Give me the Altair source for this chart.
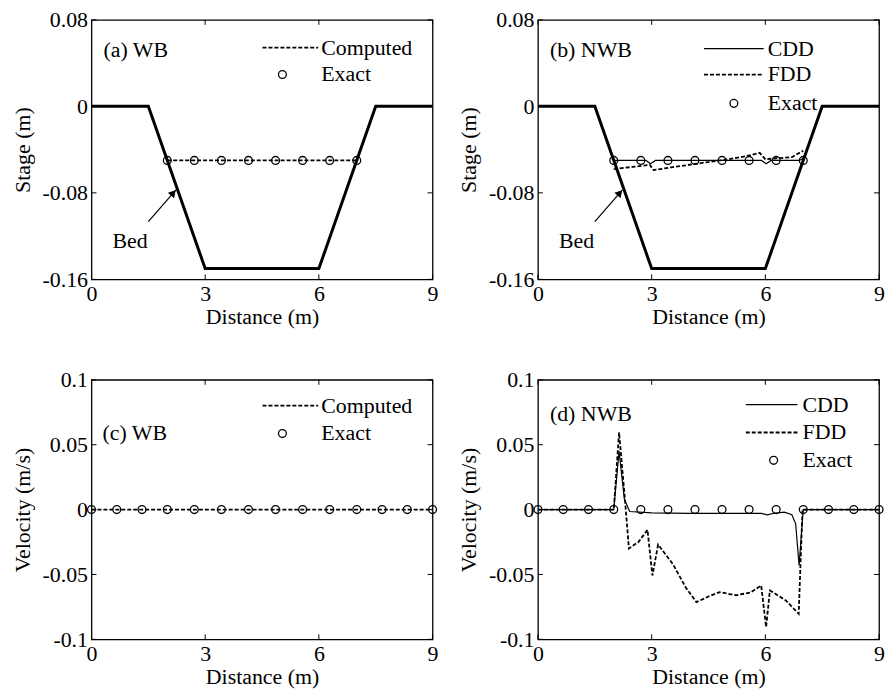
import altair as alt
import pandas as pd

FONT = "Liberation Serif"
FS = 22
W, H = 343, 261

# ---------------- data ----------------
X_TICKS = [0, 3, 6, 9]
STAGE_TICKS = [0.08, 0, -0.08, -0.16]
VEL_TICKS = [0.1, 0.05, 0, -0.05, -0.1]

BED_X = [0, 1.5, 3, 6, 7.5, 9]
BED_Z = [0, 0, -0.15, -0.15, 0, 0]

EXACT_STAGE_X = [2.0, 2.714, 3.429, 4.143, 4.857, 5.571, 6.286, 7.0]
EXACT_STAGE = [-0.05, -0.05, -0.05, -0.05, -0.05, -0.05, -0.05, -0.05]

WB_STAGE_X = [2.0, 7.0]
WB_STAGE = [-0.05, -0.05]

CDD_STAGE_X = [2.0, 2.85, 2.97, 3.1, 5.9, 6.02, 6.15, 6.9, 7.0]
CDD_STAGE = [-0.05, -0.05, -0.053, -0.05, -0.05, -0.053, -0.05, -0.05, -0.048]

FDD_STAGE_X = [2.0, 2.5, 2.95, 3.05, 3.5, 4.0, 4.5, 5.0, 5.5, 5.85, 6.0, 6.3, 6.7, 7.0]
FDD_STAGE = [-0.058, -0.056, -0.054, -0.059, -0.0565, -0.054, -0.0515, -0.049,
             -0.046, -0.043, -0.049, -0.048, -0.047, -0.041]

EXACT_VEL_X = [0, 0.667, 1.333, 2.0, 2.714, 3.429, 4.143, 4.857, 5.571, 6.286,
               7.0, 7.667, 8.333, 9.0]
EXACT_VEL = [0, 0, 0, 0, 0, 0, 0, 0, 0, 0, 0, 0, 0, 0]

WB_VEL_X = [0, 9]
WB_VEL = [0, 0]

CDD_VEL_X = [0, 2.0, 2.14, 2.28, 2.42, 3.0, 4.0, 5.0, 5.9, 6.05, 6.2, 6.5, 6.7,
             6.8, 6.89, 7.0, 9.0]
CDD_VEL = [0, 0, 0.045, 0.008, -0.0015, -0.0025, -0.003, -0.003, -0.003, -0.004,
           -0.003, -0.002, -0.004, -0.011, -0.043, 0, 0]

FDD_VEL_X = [0, 2.0, 2.14, 2.29, 2.40, 2.65, 2.89, 3.02, 3.17, 3.56, 3.9, 4.18,
             4.5, 4.79, 5.23, 5.6, 5.89, 6.02, 6.12, 6.54, 6.88, 6.98, 9.0]
FDD_VEL = [0, 0, 0.0595, 0.0095, -0.030, -0.025, -0.0156, -0.0508, -0.027, -0.042,
           -0.060, -0.0713, -0.067, -0.0636, -0.066, -0.064, -0.0585, -0.0905,
           -0.0623, -0.070, -0.0803, 0, 0]

# "Bed" annotation (data coordinates)
BED_TEXT_XY = [1.02, -0.125]
ARROW_TAIL = [1.50, -0.1067]
ARROW_TIP = [2.23, -0.0772]
ARROW_HEAD_C = [2.16, -0.080]

SIGN_EXPR = "datum.value < 0 ? '-' + (-datum.value) : '' + datum.value"


def df(xs, ys):
    return pd.DataFrame({"x": xs, "y": ys})


def x_enc(field="x"):
    axis = alt.Axis(values=X_TICKS, title="Distance (m)", grid=False, domain=False,
                    ticks=False, labelPadding=4, titlePadding=2, labelFlush=False,
                    labelExpr=SIGN_EXPR)
    return alt.X(f"{field}:Q", scale=alt.Scale(domain=[0, 9], nice=False, zero=False),
                 axis=axis)


def y_enc(dom, ticks, title, field="y"):
    axis = alt.Axis(values=ticks, title=title, grid=False, domain=False, ticks=False,
                    labelPadding=4, titlePadding=8, labelExpr=SIGN_EXPR)
    return alt.Y(f"{field}:Q", scale=alt.Scale(domain=dom, nice=False, zero=False),
                 axis=axis)


ONE = pd.DataFrame({"k": [0]})


def frame_ticks(dom, yticks, title):
    xt = pd.DataFrame({"t": X_TICKS})
    yt = pd.DataFrame({"t": yticks})
    base_x = alt.Chart(xt).mark_rule(color="black", strokeWidth=1)
    base_y = alt.Chart(yt).mark_rule(color="black", strokeWidth=1)
    return [
        base_x.encode(x=x_enc("t"), y=alt.value(0), y2=alt.value(5)),
        base_x.encode(x=x_enc("t"), y=alt.value(H), y2=alt.value(H - 5)),
        base_y.encode(y=y_enc(dom, yticks, title, "t"), x=alt.value(0), x2=alt.value(5)),
        base_y.encode(y=y_enc(dom, yticks, title, "t"), x=alt.value(W - 5), x2=alt.value(W)),
    ]


def line(xs, ys, dom, ticks, title, width, dash=None):
    kw = dict(color="black", strokeWidth=width, clip=True)
    if dash:
        kw["strokeDash"] = dash
    return alt.Chart(df(xs, ys)).mark_line(**kw).encode(
        x=x_enc(), y=y_enc(dom, ticks, title))


def circles(xs, ys, dom, ticks, title):
    return alt.Chart(df(xs, ys)).mark_point(
        shape="circle", filled=False, color="black", size=62, strokeWidth=1.3, opacity=1
    ).encode(x=x_enc(), y=y_enc(dom, ticks, title))


def leg_line(x1, x2, y, width, dash=None):
    kw = dict(color="black", strokeWidth=width)
    if dash:
        kw["strokeDash"] = dash
    return alt.Chart(ONE).mark_rule(**kw).encode(
        x=alt.value(x1), x2=alt.value(x2), y=alt.value(y))


def leg_circle(x, y):
    return alt.Chart(ONE).mark_point(
        shape="circle", filled=False, color="black", size=62, strokeWidth=1.3, opacity=1
    ).encode(x=alt.value(x), y=alt.value(y))


def txt(x, y, s):
    return alt.Chart(ONE).mark_text(
        align="left", baseline="middle", font=FONT, fontSize=FS, color="black"
    ).encode(x=alt.value(x), y=alt.value(y), text=alt.value(s))


def bed_annotation(dom, ticks, title):
    arrow = alt.Chart(pd.DataFrame({
        "x": [ARROW_TAIL[0]], "y": [ARROW_TAIL[1]],
        "x2": [ARROW_TIP[0]], "y2": [ARROW_TIP[1]]})).mark_rule(
        color="black", strokeWidth=1.2).encode(
        x=x_enc(), y=y_enc(dom, ticks, title), x2="x2:Q", y2="y2:Q")
    head = alt.Chart(df([ARROW_HEAD_C[0]], [ARROW_HEAD_C[1]])).mark_point(
        shape="triangle-up", filled=True, color="black", size=70, angle=41, opacity=1
    ).encode(x=x_enc(), y=y_enc(dom, ticks, title))
    label = alt.Chart(df([BED_TEXT_XY[0]], [BED_TEXT_XY[1]])).mark_text(
        font=FONT, fontSize=FS, color="black", align="center", baseline="middle"
    ).encode(x=x_enc(), y=y_enc(dom, ticks, title), text=alt.value("Bed"))
    return [arrow, head, label]


SD = [-0.16, 0.08]
VD = [-0.1, 0.1]
ST = "Stage (m)"
VT = "Velocity (m/s)"
DASH = [4, 2]

# (a)
pa = alt.layer(
    *frame_ticks(SD, STAGE_TICKS, ST),
    line(BED_X, BED_Z, SD, STAGE_TICKS, ST, 3),
    line(WB_STAGE_X, WB_STAGE, SD, STAGE_TICKS, ST, 1.8, DASH),
    circles(EXACT_STAGE_X, EXACT_STAGE, SD, STAGE_TICKS, ST),
    *bed_annotation(SD, STAGE_TICKS, ST),
    txt(12, 30, "(a) WB"),
    leg_line(172, 228, 28, 1.8, DASH), txt(231, 28, "Computed"),
    leg_circle(192, 55), txt(231, 55, "Exact"),
).properties(width=W, height=H)

# (b)
pb = alt.layer(
    *frame_ticks(SD, STAGE_TICKS, ST),
    line(BED_X, BED_Z, SD, STAGE_TICKS, ST, 3),
    line(CDD_STAGE_X, CDD_STAGE, SD, STAGE_TICKS, ST, 1.2),
    line(FDD_STAGE_X, FDD_STAGE, SD, STAGE_TICKS, ST, 1.8, DASH),
    circles(EXACT_STAGE_X, EXACT_STAGE, SD, STAGE_TICKS, ST),
    *bed_annotation(SD, STAGE_TICKS, ST),
    txt(12, 30, "(b) NWB"),
    leg_line(167, 227, 29, 1.2), txt(231, 29, "CDD"),
    leg_line(167, 227, 55, 1.8, DASH), txt(231, 55, "FDD"),
    leg_circle(197, 84), txt(231, 84, "Exact"),
).properties(width=W, height=H)

# (c)
pc = alt.layer(
    *frame_ticks(VD, VEL_TICKS, VT),
    line(WB_VEL_X, WB_VEL, VD, VEL_TICKS, VT, 1.8, DASH),
    circles(EXACT_VEL_X, EXACT_VEL, VD, VEL_TICKS, VT),
    txt(11, 54, "(c) WB"),
    leg_line(172, 228, 26, 1.8, DASH), txt(231, 26, "Computed"),
    leg_circle(192, 54), txt(231, 54, "Exact"),
).properties(width=W, height=H)

# (d)
pd_ = alt.layer(
    *frame_ticks(VD, VEL_TICKS, VT),
    line(CDD_VEL_X, CDD_VEL, VD, VEL_TICKS, VT, 1.2),
    line(FDD_VEL_X, FDD_VEL, VD, VEL_TICKS, VT, 1.8, DASH),
    circles(EXACT_VEL_X, EXACT_VEL, VD, VEL_TICKS, VT),
    txt(12, 34, "(d) NWB"),
    leg_line(209, 261, 25, 1.2), txt(266, 25, "CDD"),
    leg_line(209, 261, 53, 1.8, DASH), txt(266, 53, "FDD"),
    leg_circle(237, 81), txt(266, 81, "Exact"),
).properties(width=W, height=H)

chart = alt.concat(
    pa, pb, pc, pd_, columns=2, spacing={"row": 101, "column": 106}, bounds="flush"
).properties(
    padding={"left": 10, "top": 6, "right": 0, "bottom": 0},
    background="white",
).configure_view(
    stroke="black", strokeWidth=1.3
).configure_axis(
    labelFont=FONT, labelFontSize=FS, labelColor="black",
    titleFont=FONT, titleFontSize=FS, titleFontWeight="normal", titleColor="black",
).configure_text(font=FONT)

chart.save("out.html", embed_options={"renderer": "svg", "actions": False})
